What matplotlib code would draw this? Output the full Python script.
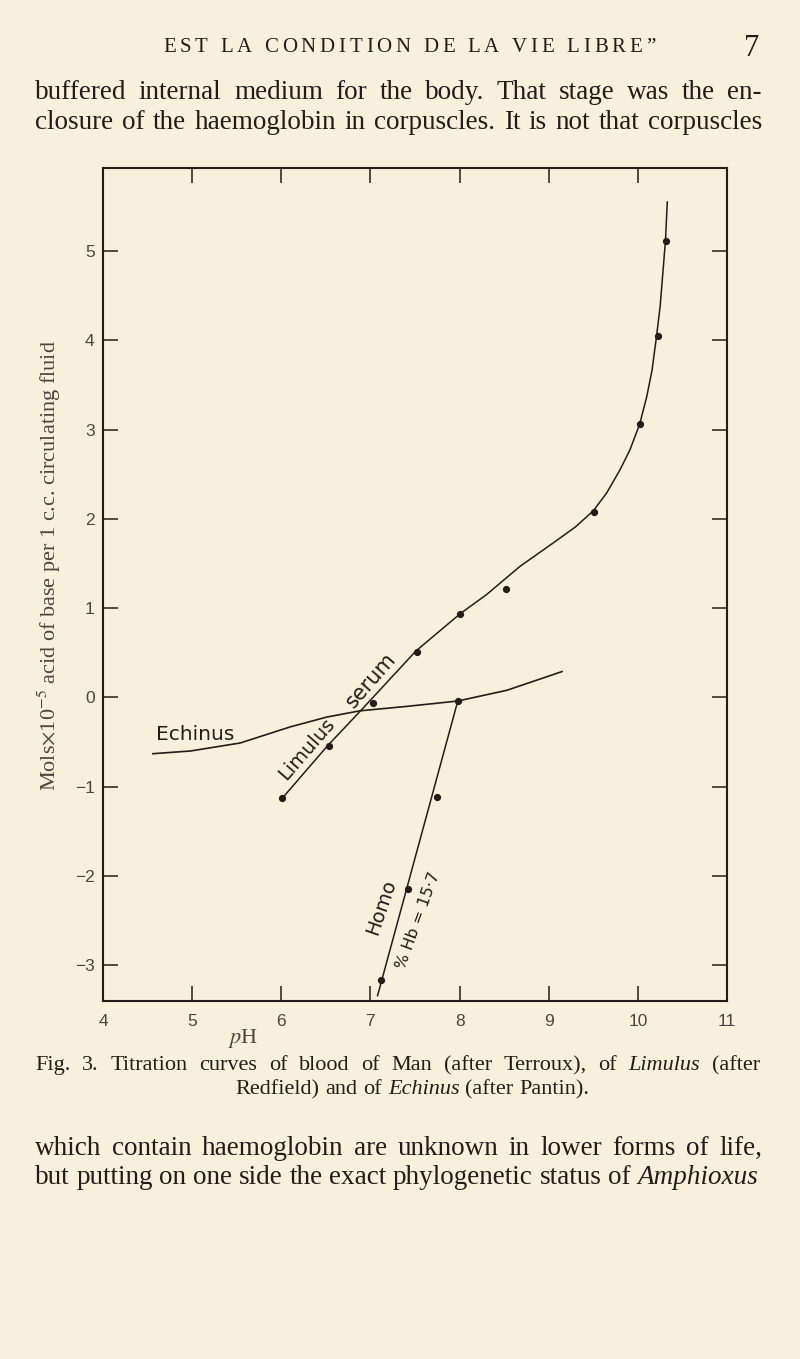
import numpy as np
import matplotlib
matplotlib.use('Agg')
import matplotlib.pyplot as plt

# page size in pixels (dpi 100)
W, H = 800, 1359
PAPER = '#f9efdd'
INK = '#221d19'
GREY = '#4d4540'
SERIF = 'Liberation Serif'

plt.rcParams['mathtext.fontset'] = 'stix'

# Limulus serum: measured points and the drawn curve
limulus_ph = [6.01, 6.53, 7.03, 7.52, 8.01, 8.52, 9.51, 10.02, 10.23, 10.32]
limulus_base = [-1.13, -0.54, -0.06, 0.51, 0.93, 1.21, 2.08, 3.06, 4.05, 5.11]
limulus_curve_ph = [6.01, 6.52, 6.88, 7.51, 8.01, 8.30, 8.68, 9.05, 9.30, 9.50, 9.65, 9.80, 9.91,
                    10.02, 10.10, 10.16, 10.21, 10.25, 10.28, 10.31, 10.33]
limulus_curve_base = [-1.13, -0.54, -0.16, 0.52, 0.94, 1.15, 1.47, 1.73, 1.91, 2.09, 2.29, 2.55, 2.77,
                      3.06, 3.37, 3.67, 4.05, 4.38, 4.75, 5.12, 5.55]

# Echinus curve
echinus_ph = [4.56, 4.98, 5.54, 6.10, 6.51, 6.88, 7.41, 7.98, 8.53, 9.15]
echinus_base = [-0.63, -0.60, -0.51, -0.33, -0.22, -0.15, -0.10, -0.04, 0.08, 0.29]

# Homo (% Hb = 15.7)
homo_ph = [7.98, 7.75, 7.42, 7.12]
homo_base = [-0.04, -1.11, -2.15, -3.17]
homo_line_ph = [7.98, 7.08]
homo_line_base = [-0.04, -3.34]

xticks = [4, 5, 6, 7, 8, 9, 10, 11]
yticks = [-3, -2, -1, 0, 1, 2, 3, 4, 5]

fig = plt.figure(figsize=(W / 100, H / 100), dpi=100)
fig.patch.set_facecolor(PAPER)
ax = fig.add_axes([103 / W, 1 - 1001 / H, 624 / W, 833 / H])
ax.set_facecolor(PAPER)

ax.plot(limulus_curve_ph, limulus_curve_base, color=INK, lw=1.1)
ax.plot(limulus_ph, limulus_base, 'o', color=INK, ms=4.2)
ax.plot(echinus_ph, echinus_base, color=INK, lw=1.2)
ax.plot(homo_line_ph, homo_line_base, color=INK, lw=1.1)
ax.plot(homo_ph, homo_base, 'o', color=INK, ms=4.2)

ax.set_xlim(4, 11)
ax.set_ylim(-3.40, 5.93)
ax.set_xticks(xticks)
ax.set_yticks(yticks)
ax.tick_params(direction='in', length=11, width=1.1, color=INK,
               top=True, right=True, labelsize=12.5, labelcolor=GREY)
ax.tick_params(axis='x', pad=9)
ax.tick_params(axis='y', pad=6)
for lab in ax.get_xticklabels() + ax.get_yticklabels():
    lab.set_family('Liberation Sans')
for sp in ax.spines.values():
    sp.set_linewidth(1.5)
    sp.set_color(INK)

ax.set_xlabel(r'$p$H', family=SERIF, fontsize=16, color=GREY)
ax.xaxis.set_label_coords(0.224, -0.031)
ax.set_ylabel(r'Mols$\times$10$^{-5}$ acid of base per 1 c.c. circulating fluid',
              family=SERIF, fontsize=16, color=GREY)
ax.yaxis.set_label_coords(-0.064, 0.523)

lab = dict(family='DejaVu Sans', color=INK, ha='center', va='center', rotation_mode='anchor')
ax.text(5.03, -0.42, 'Echinus', fontsize=14.5, **lab)
ax.text(6.28, -0.58, 'Limulus', fontsize=14, rotation=49, **lab)
ax.text(7.0, 0.19, 'serum', fontsize=15, rotation=49, **lab)
ax.text(7.12, -2.35, 'Homo', fontsize=14, rotation=71, **lab)
ax.text(7.54, -2.50, '% Hb = 15·7', fontsize=11.5, rotation=70, **lab)

# page text around the figure
rend = fig.canvas.get_renderer()


def put_line(words, x0, x1, y, size, justify=True, center=False):
    arts = []
    for w in words:
        style = 'italic' if w.startswith('_') else 'normal'
        arts.append(fig.text(0, 0, w.lstrip('_'), fontsize=size, family=SERIF,
                             style=style, color=INK, va='baseline'))
    widths = [t.get_window_extent(rend).width for t in arts]
    gap = size * 100 / 72 * 0.26
    if justify:
        gap = (x1 - x0 - sum(widths)) / (len(words) - 1)
    total = sum(widths) + gap * (len(words) - 1)
    x = (x0 + x1 - total) / 2 if center else x0
    for t, w in zip(arts, widths):
        t.set_position((x / W, 1 - y / H))
        x += w + gap


def put_tracked(s, x0, x1, y, size):
    arts, widths = [], []
    for ch in s:
        t = fig.text(0, 0, ch, fontsize=size, family=SERIF, color=INK, va='baseline')
        arts.append(t)
        widths.append(size * 100 / 72 * 0.25 if ch == ' ' else t.get_window_extent(rend).width)
    track = (x1 - x0 - sum(widths)) / (len(s) - 1)
    x = x0
    for t, w in zip(arts, widths):
        t.set_position((x / W, 1 - y / H))
        x += w + track


put_tracked('EST LA CONDITION DE LA VIE LIBRE\u201d', 163, 655, 52, 15)
fig.text(752 / W, 1 - 56 / H, '7', fontsize=22, family=SERIF, color=INK, ha='center', va='baseline')

put_line('buffered internal medium for the body. That stage was the en-'.split(), 35, 762, 99, 19.5)
put_line('closure of the haemoglobin in corpuscles.  It is not that corpuscles'.split(), 35, 762, 129, 19.5)

put_line('Fig. 3.  Titration curves of blood of Man (after Terroux), of _Limulus (after'.split(),
         35, 760, 1070, 16)
put_line('Redfield) and of _Echinus (after Pantin).'.split(), 35, 790, 1094, 16,
         justify=False, center=True)

put_line('which contain haemoglobin are unknown in lower forms of life,'.split(), 35, 762, 1155, 19.5)
put_line('but putting on one side the exact phylogenetic status of _Amphioxus'.split(), 35, 758, 1184, 19.5)

fig.savefig('out.png', dpi=100, facecolor=PAPER)
